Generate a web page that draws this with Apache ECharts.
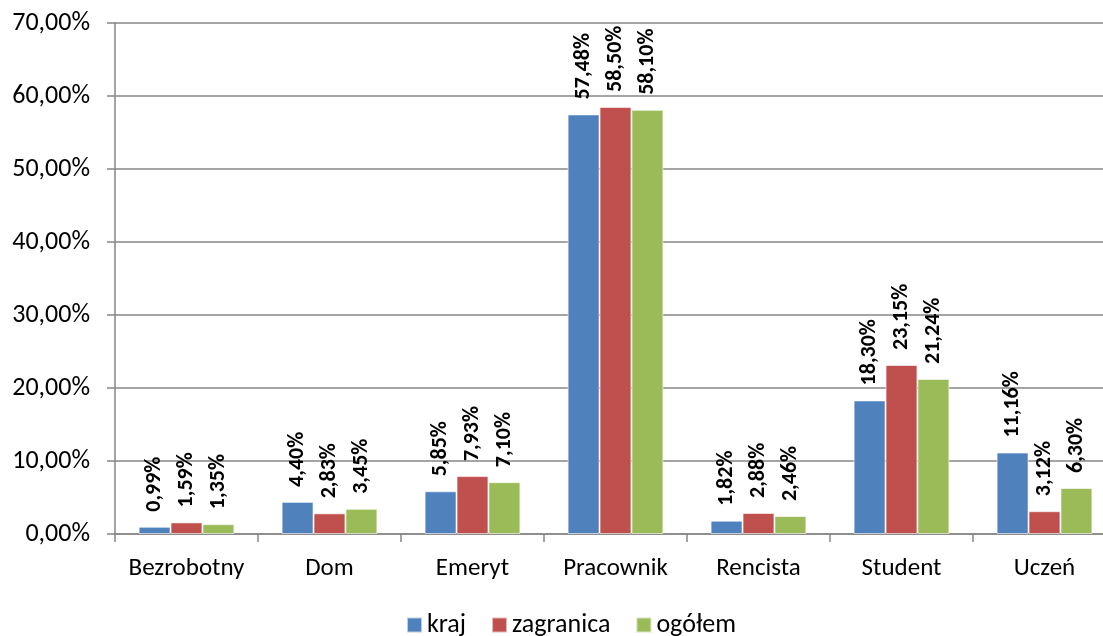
<!DOCTYPE html>
<html><head><meta charset="utf-8">
<script src="https://cdn.jsdelivr.net/npm/echarts@6/dist/echarts.min.js"></script>
<style>html,body{margin:0;padding:0;background:#fff}#c{width:1103px;height:636px}</style>
</head><body><div id="c"></div>
<script>
const categories = ['Bezrobotny','Dom','Emeryt','Pracownik','Rencista','Student','Uczeń'];
const kraj = [0.99, 4.40, 5.85, 57.48, 1.82, 18.30, 11.16];
const zagranica = [1.59, 2.83, 7.93, 58.50, 2.88, 23.15, 3.12];
const ogolem = [1.35, 3.45, 7.10, 58.10, 2.46, 21.24, 6.30];
const seriesNames = ['kraj','zagranica','ogółem'];
const colors = ['#4F81BD','#C0504D','#9BBB59'];
const FONT = 'Carlito, "Open Sans", "Noto Sans", sans-serif';
const fmt = v => v.toFixed(2).replace('.', ',') + '%';
const chart = echarts.init(document.getElementById('c'));
const mk = (name, data, color) => ({
  name, type: 'bar', data, barGap: '0%', barCategoryGap: '33%',
  itemStyle: { color, borderColor: 'rgba(255,255,255,0.6)', borderWidth: 1 },
  label: { show: true, position: 'top', rotate: 90, align: 'left', verticalAlign: 'middle', distance: 15,
    fontFamily: FONT, fontWeight: 'bold', fontSize: 22, color: '#000',
    formatter: p => fmt(p.value) }
});
chart.setOption({
  animation: false,
  color: colors,
  textStyle: { fontFamily: FONT },
  grid: { left: 115, top: 23, width: 1001, height: 511, containLabel: false, outerBoundsMode: 'none' },
  legend: { top: 612, left: 406, padding: 0, itemWidth: 15, itemHeight: 15, itemGap: 25, icon: 'rect',
    textStyle: { fontFamily: FONT, fontSize: 26, color: '#000' }, data: seriesNames },
  xAxis: { type: 'category', data: categories,
    axisLine: { lineStyle: { color: '#868686', width: 1.5 } },
    axisTick: { show: true, length: 8, lineStyle: { color: '#868686', width: 1.5 } },
    axisLabel: { interval: 0, fontFamily: FONT, fontSize: 25, color: '#000', margin: 22 } },
  yAxis: { type: 'value', min: 0, max: 70, interval: 10,
    axisLine: { show: true, lineStyle: { color: '#868686', width: 1.5 } },
    axisTick: { show: true, length: 8, lineStyle: { color: '#868686', width: 1.5 } },
    splitLine: { lineStyle: { color: '#868686', width: 1.5 } },
    axisLabel: { fontFamily: FONT, fontSize: 26, color: '#000', margin: 25,
      formatter: v => v.toFixed(2).replace('.', ',') + '%' } },
  series: [mk(seriesNames[0], kraj, colors[0]), mk(seriesNames[1], zagranica, colors[1]), mk(seriesNames[2], ogolem, colors[2])]
});
</script></body></html>
